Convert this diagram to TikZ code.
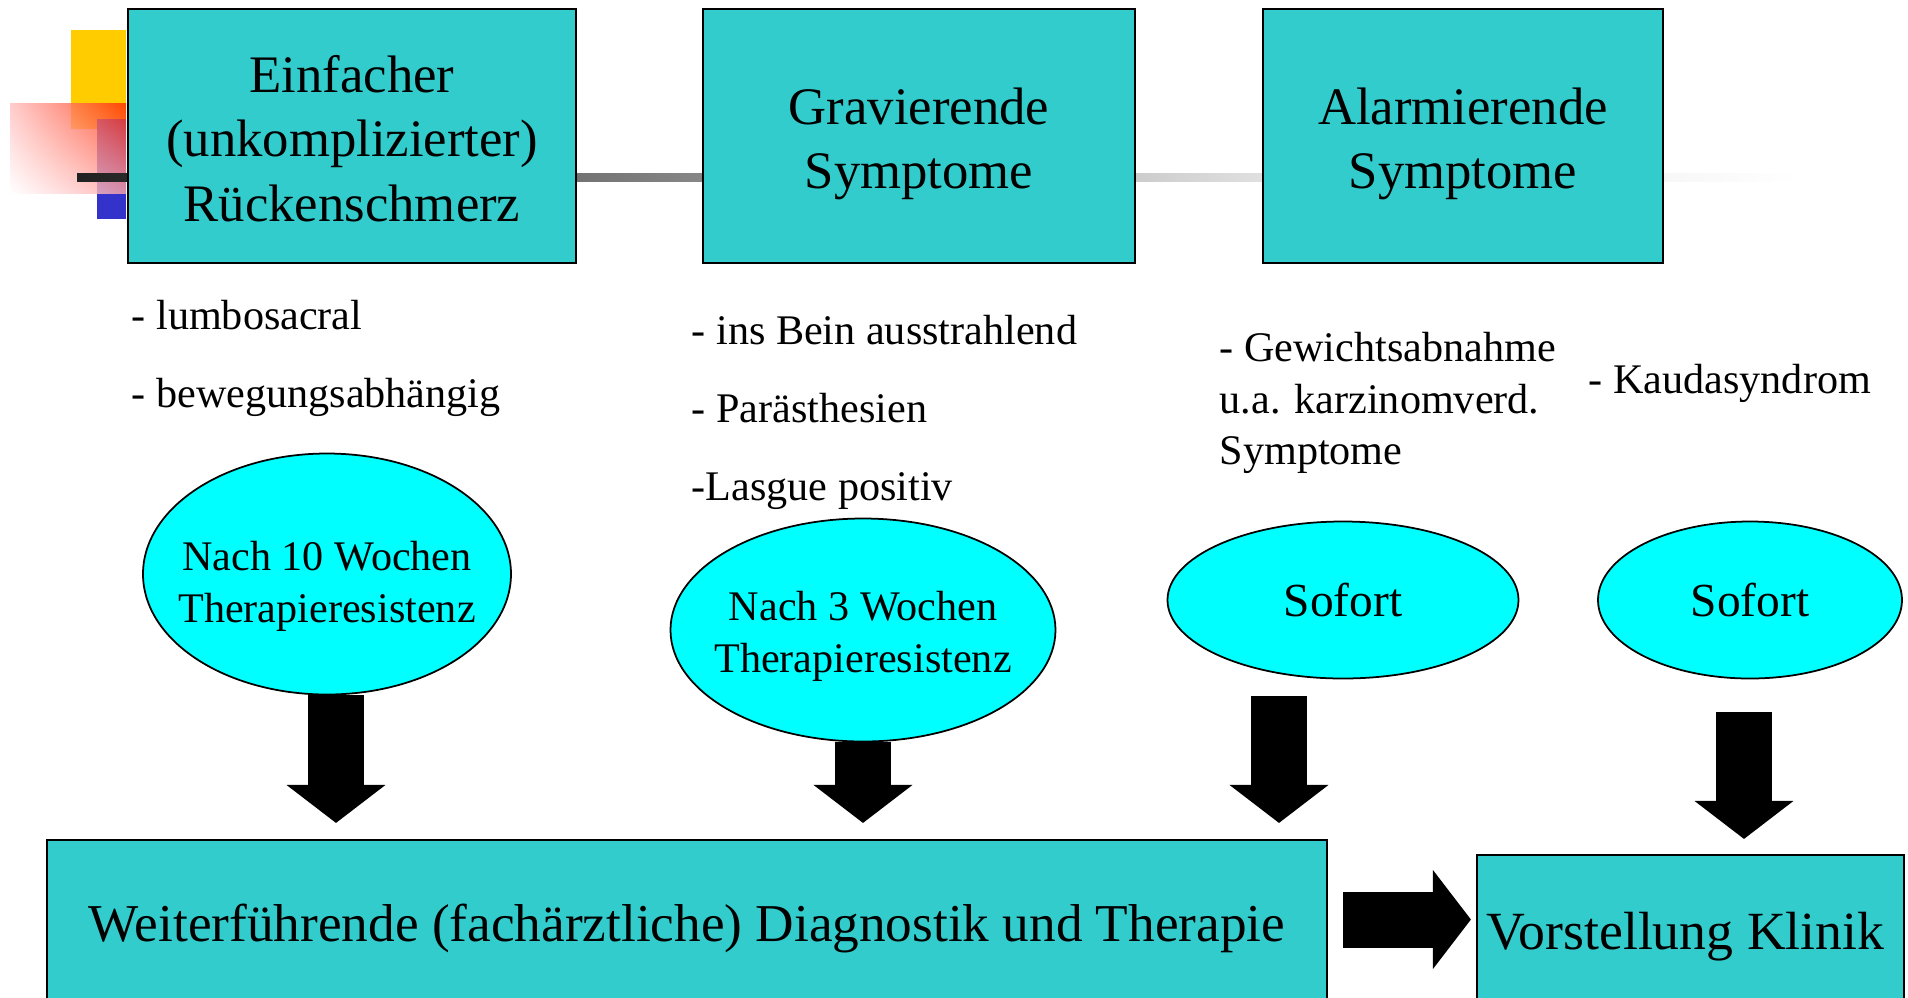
\documentclass[tikz,border=0pt]{standalone}
\usepackage{fontspec}
\setmainfont{Liberation Serif}
\usetikzlibrary{shapes.geometric,arrows.meta,shadings}

\definecolor{boxcyan}{RGB}{51,204,204}
\definecolor{ovalcyan}{RGB}{0,255,255}
\definecolor{decoyellow}{RGB}{255,204,0}
\definecolor{decoblue}{RGB}{51,51,204}
\definecolor{decored}{RGB}{255,40,0}

\tikzset{
	headbox/.style = {draw = black, line width = 0.6pt, fill = boxcyan, inner sep = 0pt, minimum height = 25.45mm},
	headtext/.style = {inner sep = 0pt, align = center, font = \fontsize{15}{18.4}\selectfont},
	basebox/.style = {draw = black, line width = 0.6pt, fill = boxcyan, inner sep = 0pt, align = center, font = \fontsize{15.15}{18}\selectfont},
	oval/.style = {ellipse, draw = black, line width = 0.5pt, fill = ovalcyan, inner sep = 0pt, align = center, font = \fontsize{13.5}{16}\selectfont},
	ovaltext/.style = {inner sep = 0pt, align = center, font = \fontsize{12}{14.8}\selectfont},
	symtext/.style = {anchor = base west, inner sep = 0pt, font = \fontsize{12}{14.6}\selectfont},
	blockarrow/.style = {line width = 5.6mm, -{Triangle[width = 9.7mm, length = 3.8mm]}}
}

\begin{document}
\begin{tikzpicture}[x = 0.1mm, y = -0.1mm]
	%	canvas
	\useasboundingbox (0, 0) rectangle (1908, 997);
	\clip (0, 0) rectangle (1908, 997);
	
	%	template corner
	\fill[decoyellow] (71, 30) rectangle (126, 129);
	\fill[decoblue] (97, 119) rectangle (126, 219);
	\shade[opacity = 0.8, upper right = decored, upper left = red!25, lower right = red!35, lower left = white] (10, 103) rectangle (126, 193);
	\foreach \xa/\xb/\ca/\cb in {77/703/87/47, 703/1263/47/12, 1263/1800/12/0}
		\shade[left color = black!\ca, right color = black!\cb] (\xa, 173) rectangle (\xb, 181);
	
	%	headings
	\node[headbox, minimum width = 44.8mm] (einfach) at (352, 136) {};
	\node[headbox, minimum width = 43.2mm] (gravierend) at (919, 136) {};
	\node[headbox, minimum width = 40mm] (alarm) at (1463, 136) {};
	\node[headtext] (einfachtxt) at ([yshift = -0.25mm]einfach.center) {Einfacher\\(unkomplizierter)\\Rückenschmerz};
	\node[headtext] (gravierendtxt) at ([yshift = -0.8mm]gravierend.center) {Gravierende\\Symptome};
	\node[headtext] (alarmtxt) at ([yshift = -0.8mm]alarm.center) {Alarmierende\\Symptome};
	
	%	symptome
	\node[symtext] (lumbo) at (131, 329) {- lumbosacral};
	\node[symtext] (beweg) at (131, 407) {- bewegungsabhängig};
	\node[symtext] (bein) at (691, 344) {- ins Bein ausstrahlend};
	\node[symtext] (paraest) at (691, 422) {- Parästhesien};
	\node[symtext] (lasgue) at (691, 500) {-Lasgue positiv};
	\node[symtext] (gewicht) at (1219, 361) {- Gewichtsabnahme};
	\node[symtext] (karzinom) at (1219, 413) {u.a. karzinomverd.};
	\node[symtext] (sympt) at (1219, 464) {Symptome};
	\node[symtext] (kauda) at (1588, 393) {- Kaudasyndrom};
	
	%	zeiten
	\node[oval, minimum width = 36.8mm, minimum height = 24.1mm] (zehn) at (327, 574) {};
	\node[oval, minimum width = 38.5mm, minimum height = 22.3mm] (drei) at (863, 630) {};
	\node[ovaltext] (zehntxt) at ([yshift = -1.2mm]zehn.center) {Nach 10 Wochen\\Therapieresistenz};
	\node[ovaltext] (dreitxt) at ([yshift = -0.6mm]drei.center) {Nach 3 Wochen\\Therapieresistenz};
	\node[oval, minimum width = 35.1mm, minimum height = 15.7mm] (sofortA) at (1343, 600) {Sofort};
	\node[oval, minimum width = 30.4mm, minimum height = 15.7mm] (sofortB) at (1750, 600) {Sofort};
	
	%	ziele
	\node[basebox, minimum width = 128.05mm, minimum height = 17.6mm] (weiter) at (687, 928) {Weiterführende (fachärztliche) Diagnostik und Therapie};
	\node[basebox, minimum width = 42.7mm, minimum height = 16.4mm, font = \fontsize{15.3}{18}\selectfont] (klinik) at (1690.5, 937) {Vorstellung Klinik\hspace{1mm}};
	
	%	pfeile
	\draw[blockarrow, shorten >= 1.6mm] ([xshift = 0.9mm]zehn.south) -- ([xshift = 0.9mm]zehn.south |- weiter.north);
	\draw[blockarrow, shorten >= 1.6mm] (drei.south) -- (drei.south |- weiter.north);
	\draw[blockarrow, shorten <= 1.7mm, shorten >= 1.6mm] ([xshift = -6.4mm]sofortA.south) -- ([xshift = -6.4mm]sofortA.south |- weiter.north);
	\draw[blockarrow, shorten <= 3.3mm, shorten >= 1.5mm] ([xshift = -0.6mm]sofortB.south) -- ([xshift = -0.6mm]sofortB.south |- klinik.north);
	\draw[blockarrow, shorten <= 1.5mm, shorten >= 0.5mm] ([yshift = 0.85mm]weiter.east) -- ([yshift = 0.85mm]weiter.east -| klinik.west);
\end{tikzpicture}
\end{document}
